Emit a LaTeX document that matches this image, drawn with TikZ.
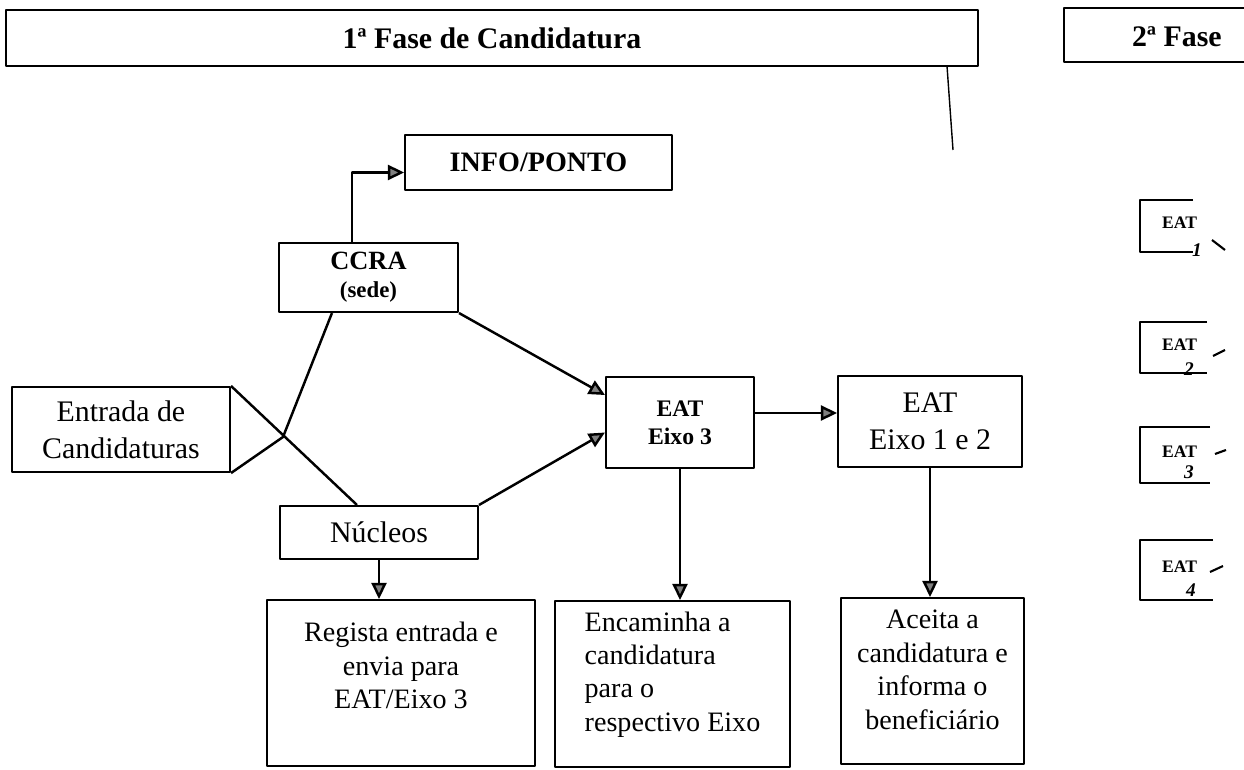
\documentclass[tikz,border=0pt]{standalone}
\usepackage{fontspec}
\setmainfont{Liberation Serif}
\usetikzlibrary{arrows.meta}

\tikzset{
  box/.style={draw, rectangle, line width=1.2pt, inner sep=0pt, align=center},
  taskbox/.style={box, minimum height=3.32cm, text depth=0.7cm, font=\fontsize{16}{19}\selectfont},
  link/.style={line width=1.4pt},
  arrow/.style={link, -{Triangle[length=0.32cm,width=0.3cm,fill=gray]}}
}

\begin{document}
\begin{tikzpicture}[x=0.02cm,y=-0.02cm,line join=round]
        % fix the page size
        \useasboundingbox (0,0) rectangle (1244,770);
        \clip (0,0) rectangle (1244,770);

        % draw the phase headers
        \node (fase1) [box, minimum width=19.44cm, minimum height=1.12cm,
                font=\bfseries\fontsize{17}{20}\selectfont] at (492,38) {1ª Fase de Candidatura};
        \node (fase2) [box, minimum width=3.92cm, minimum height=1.08cm] at (1162,35) {};
        \node (fase2txt) [anchor=west, font=\bfseries\fontsize{17}{20}\selectfont] at (1126,37) {2ª Fase};
        \coordinate (tickTop) at (947,66);
        \coordinate (tickEnd) at (953,150);
        \draw[line width=0.8pt] (tickTop) -- (tickEnd);

        % draw the boxes of the first phase
        \node (info) [box, minimum width=5.34cm, minimum height=1.1cm,
                font=\bfseries\fontsize{16}{19}\selectfont] at (538.5,162.5) {INFO/PONTO};
        \node (ccra) [box, minimum width=3.58cm, minimum height=1.38cm,
                font=\bfseries\fontsize{15}{16}\selectfont] at (368.5,277.5)
                {CCRA\\{\fontsize{13}{14}\selectfont (sede)}};
        \node (entrada) [box, minimum width=4.36cm, minimum height=1.7cm,
                font=\fontsize{17}{21}\selectfont] at (121,429.5) {Entrada de\\Candidaturas};
        \node (nucleos) [box, minimum width=3.96cm, minimum height=1.06cm,
                font=\fontsize{17}{20}\selectfont] at (379,532.5) {Núcleos};
        \node (eixo3) [box, minimum width=2.96cm, minimum height=1.82cm,
                font=\bfseries\fontsize{13.5}{16}\selectfont] at (680,422.5) {EAT\\Eixo 3};
        \node (eixo12) [box, minimum width=3.68cm, minimum height=1.82cm,
                font=\fontsize{17}{21}\selectfont] at (930,421.5) {EAT\\Eixo 1 e 2};

        % draw what each one does
        \node (regista) [taskbox, minimum width=5.36cm] at (401,683)
                {Regista entrada e\\envia para\\EAT/Eixo 3};
        \node (encaminha) [taskbox, minimum width=4.7cm, text depth=0.5cm, align=left] at (672.5,684)
                {Encaminha a\\candidatura\\para o\\respectivo Eixo};
        \node (aceita) [taskbox, minimum width=3.66cm, text depth=0.45cm] at (932.5,681)
                {Aceita a\\candidatura e\\informa o\\beneficiário};

        % connect CCRA with INFO/PONTO
        \draw[arrow] ([xshift=-0.33cm]ccra.north) |- ([yshift=-0.2cm]info.west);

        % the two lines crossing in front of the entry box
        \coordinate (cross) at (283,437);
        \draw[link] ([xshift=1.08cm]ccra.south west) -- (cross) -- (entrada.south east);
        \draw[link] (entrada.north east) -- ([xshift=1.56cm]nucleos.north west);

        % into and out of EAT Eixo 3
        \draw[arrow] (ccra.south east) -- ([yshift=0.55cm]eixo3.west);
        \draw[arrow] (nucleos.north east) -- ([yshift=-0.2cm]eixo3.west);
        \coordinate (e3out) at ([yshift=0.19cm]eixo3.east);
        \draw[arrow] (e3out) -- (e3out -| eixo12.west);

        % down to the tasks
        \draw[arrow] (nucleos.south) -- (nucleos.south |- regista.north);
        \draw[arrow] (eixo3.south) -- (eixo3.south |- encaminha.north);
        \draw[arrow] (eixo12.south) -- (eixo12.south |- aceita.north);

        % the EAT boxes of the second phase
        \foreach \n/\ya/\yb/\xr/\xn/\yn in {1/200/252/1193/1197/250,
                2/322/373/1207/1189/369, 3/427/483/1210/1189/472, 4/540/600/1213/1191/590} {
                \draw[line width=1pt] (\xr,\ya) -- (1140,\ya) -- (1140,\yb) -- (\xr,\yb);
                \node (eat\n) [anchor=west, font=\bfseries\fontsize{10}{12}\selectfont]
                        at (1156,{(\ya+\yb)/2-3}) {EAT};
                \node (num\n) [font=\itshape\bfseries\fontsize{11}{12}\selectfont] at (\xn,\yn) {\n};
        }
        % the pen marks next to them
        \draw[line width=1.2pt] (1212,240) -- (1225,250)
                (1213,356) -- (1225,350)
                (1215,454) -- (1226,450)
                (1210,572) -- (1223,566);
\end{tikzpicture}
\end{document}
